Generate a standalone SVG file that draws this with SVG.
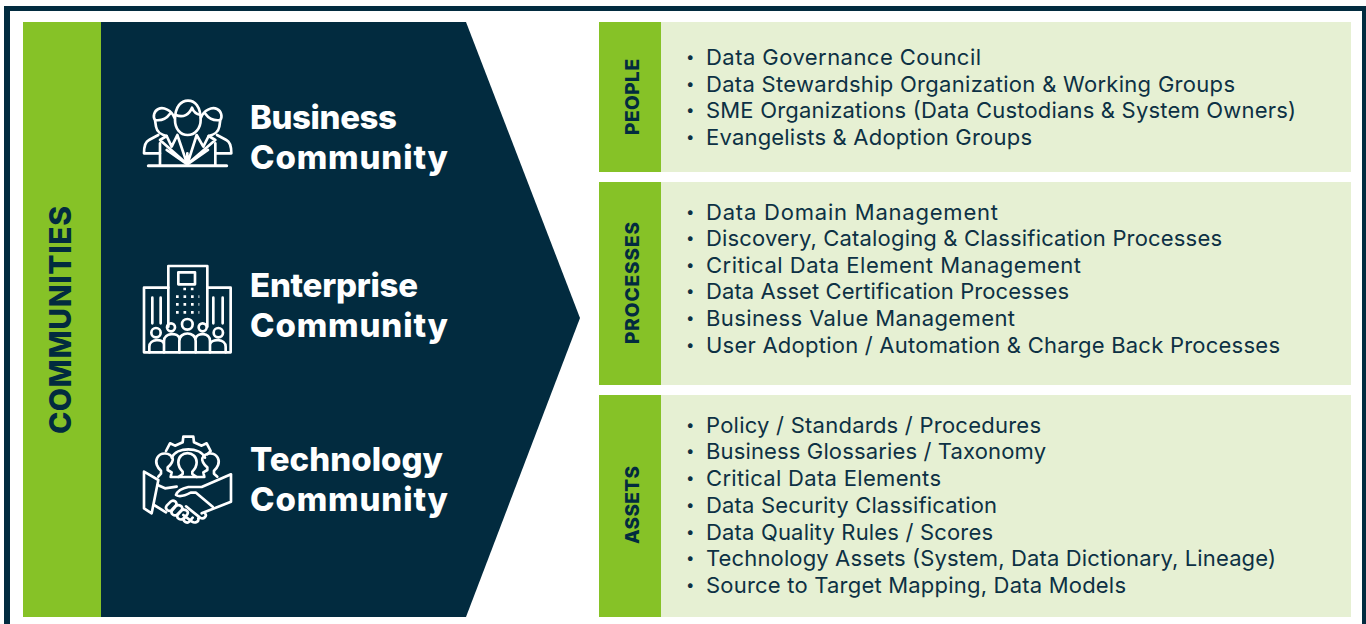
<svg xmlns="http://www.w3.org/2000/svg" width="1366" height="624" viewBox="0 0 1366 624">
<style>
.d{fill:#022b3f}.g{fill:#86c227}.l{fill:#e6f0d3}
text{font-family:"Inter","Noto Sans","Liberation Sans",sans-serif}
.t{font-size:22px;fill:#0d3144}
.p{font-size:15px;fill:#0d3144}
.h{font-size:33px;font-weight:800;fill:#fff}
.s{font-size:19px;font-weight:800;fill:#022b3f}
.ic{fill:none;stroke:#fff;stroke-width:8;stroke-linejoin:round;stroke-linecap:round}
</style>
<rect width="1366" height="624" fill="#fff"/>
<path class="d" d="M4 6H1366V11H10V624H4ZM1362 6H1366V624H1362Z"/>
<g id="communities">
<rect class="g" x="23" y="22" width="78" height="595"/>
<polygon class="d" points="101,22 466,22 580,318 466,617 101,617"/>
<text transform="translate(71 320) rotate(-90)" text-anchor="middle" font-size="30" font-weight="800" fill="#022b3f" textLength="228">COMMUNITIES</text>
</g>
<g id="business">
<g class="ic" transform="translate(130 85) scale(.3333)">
<path d="M135 105C135 62 155 47 174 47C195 47 212 65 212 105C212 130 195 150 173 150C150 150 135 130 135 105Z"/>
<path d="M137 90C160 100 178 88 186 68C190 80 200 88 212 90"/>
<path d="M133 98C125 75 100 65 85 72C72 78 68 95 75 105L78 125C80 140 95 150 110 153M75 105C95 108 110 100 120 86"/>
<path d="M213 98C221 75 246 65 261 72C274 78 278 95 271 105L268 125C266 140 251 150 236 153M271 105C251 108 236 100 226 86"/>
<path d="M85 150L57 165C46 170 42 182 42 205H90M261 150L289 165C300 170 304 182 304 205H256"/>
<path d="M90 175V240M256 175V240"/>
<path d="M172 238L90 165L110 153L125 185L142 150L172 238L200 150L220 185L236 153L256 165L172 238M172 238L110 195M172 238L234 195M172 238V205"/>
<path d="M55 242H290" stroke-width="9"/>
</g>
<text class="h" x="250" y="129" textLength="147">Business</text>
<text class="h" x="250" y="169" textLength="198">Community</text>
</g>
<g id="enterprise">
<g class="ic" transform="translate(130 255) scale(.3333)">
<path d="M115 215V33H232V215"/>
<path d="M115 98H42V292H302V98H232"/>
<rect x="145" y="52" width="50" height="36"/>
<path d="M67 128V205M92 128V205M250 128V205M278 128V205"/>
<path d="M160 102h45M138 125h70M138 148h70M138 172h70" stroke-dasharray="8 14.500" stroke-width="8" stroke-linecap="butt"/>
<circle cx="172" cy="208" r="16"/><circle cx="123" cy="217" r="12"/><circle cx="218" cy="217" r="12"/><circle cx="78" cy="233" r="14"/><circle cx="265" cy="233" r="14"/>
<path d="M148 292V258C148 228 197 228 197 258V292M102 292V258C102 232 145 232 148 250M197 250C202 232 240 232 240 258V292M58 292V275C58 250 100 250 102 268M240 268C245 250 287 250 287 275V292"/>
</g>
<text class="h" x="250" y="297" textLength="168">Enterprise</text>
<text class="h" x="250" y="337" textLength="198">Community</text>
</g>
<g id="technology">
<g class="ic" transform="translate(130 425) scale(.3333)">
<path d="M108 78L120 55L135 62L158 52L160 35H190L192 52L215 62L230 55L242 78L232 88"/>
<path d="M125 98C140 65 210 65 225 98"/>
<path d="M145 112C145 75 200 75 200 112C200 125 192 135 187 140V147L200 156H145L158 147V140C153 135 145 125 145 112Z"/>
<path d="M145 156H122L125 142L113 135V127C125 118 130 105 128 100C120 82 92 80 82 98C74 112 82 128 93 137V146L85 155"/>
<path d="M200 156H223L220 142L232 135V127C220 118 215 105 217 100C225 82 253 80 263 98C271 112 263 128 252 137V146L262 155"/>
<path d="M42 140L85 165L65 265L42 250Z"/>
<path d="M83 180L105 190L140 185"/>
<path d="M303 148V230L215 265M303 148L215 186H175C155 190 142 198 138 210C150 218 165 212 182 203L198 203L248 245"/>
<path d="M72 240L108 262M225 265C232 272 222 285 210 278L168 244M205 280C208 290 195 296 186 290L160 270"/>
<path d="M122 230L110 242C103 252 117 262 125 255L137 242C145 232 130 222 122 230ZM137 244L126 257C120 267 134 276 142 268L155 255C162 245 147 236 137 244ZM155 256L143 270C138 280 152 288 160 280L172 268C178 258 163 250 155 256ZM172 268L162 281C158 290 172 296 178 290L188 278"/>
</g>
<text class="h" x="250" y="471" textLength="193">Technology</text>
<text class="h" x="250" y="511" textLength="198">Community</text>
</g>
<g id="people">
<rect class="g" x="599" y="22" width="62" height="150"/><rect class="l" x="661" y="22" width="690" height="150"/>
<text class="s" transform="translate(639 97) rotate(-90)" text-anchor="middle" textLength="76">PEOPLE</text>
<text class="p" x="686" y="62">•</text><text class="t" x="706" y="65" textLength="275">Data Governance Council</text>
<text class="p" x="686" y="89">•</text><text class="t" x="706" y="92" textLength="529">Data Stewardship Organization &amp; Working Groups</text>
<text class="p" x="686" y="115">•</text><text class="t" x="706" y="118" textLength="590">SME Organizations (Data Custodians &amp; System Owners)</text>
<text class="p" x="686" y="142">•</text><text class="t" x="706" y="145" textLength="326">Evangelists &amp; Adoption Groups</text>
</g>
<g id="processes">
<rect class="g" x="599" y="182" width="62" height="203"/><rect class="l" x="661" y="182" width="690" height="203"/>
<text class="s" transform="translate(639 283) rotate(-90)" text-anchor="middle" textLength="122">PROCESSES</text>
<text class="p" x="686" y="217">•</text><text class="t" x="706" y="220" textLength="292">Data Domain Management</text>
<text class="p" x="686" y="243">•</text><text class="t" x="706" y="246" textLength="516">Discovery, Cataloging &amp; Classification Processes</text>
<text class="p" x="686" y="270">•</text><text class="t" x="706" y="273" textLength="375">Critical Data Element Management</text>
<text class="p" x="686" y="296">•</text><text class="t" x="706" y="299" textLength="363">Data Asset Certification Processes</text>
<text class="p" x="686" y="323">•</text><text class="t" x="706" y="326" textLength="309">Business Value Management</text>
<text class="p" x="686" y="350">•</text><text class="t" x="706" y="353" textLength="574">User Adoption / Automation &amp; Charge Back Processes</text>
</g>
<g id="assets">
<rect class="g" x="599" y="395" width="62" height="222"/><rect class="l" x="661" y="395" width="690" height="222"/>
<text class="s" transform="translate(639 505) rotate(-90)" text-anchor="middle" textLength="78">ASSETS</text>
<text class="p" x="686" y="430">•</text><text class="t" x="706" y="433" textLength="335">Policy / Standards / Procedures</text>
<text class="p" x="686" y="456">•</text><text class="t" x="706" y="459" textLength="340">Business Glossaries / Taxonomy</text>
<text class="p" x="686" y="483">•</text><text class="t" x="706" y="486" textLength="235">Critical Data Elements</text>
<text class="p" x="686" y="510">•</text><text class="t" x="706" y="513" textLength="291">Data Security Classification</text>
<text class="p" x="686" y="537">•</text><text class="t" x="706" y="540" textLength="287">Data Quality Rules / Scores</text>
<text class="p" x="686" y="563">•</text><text class="t" x="706" y="566" textLength="570">Technology Assets (System, Data Dictionary, Lineage)</text>
<text class="p" x="686" y="590">•</text><text class="t" x="706" y="593" textLength="420">Source to Target Mapping, Data Models</text>
</g>
</svg>
